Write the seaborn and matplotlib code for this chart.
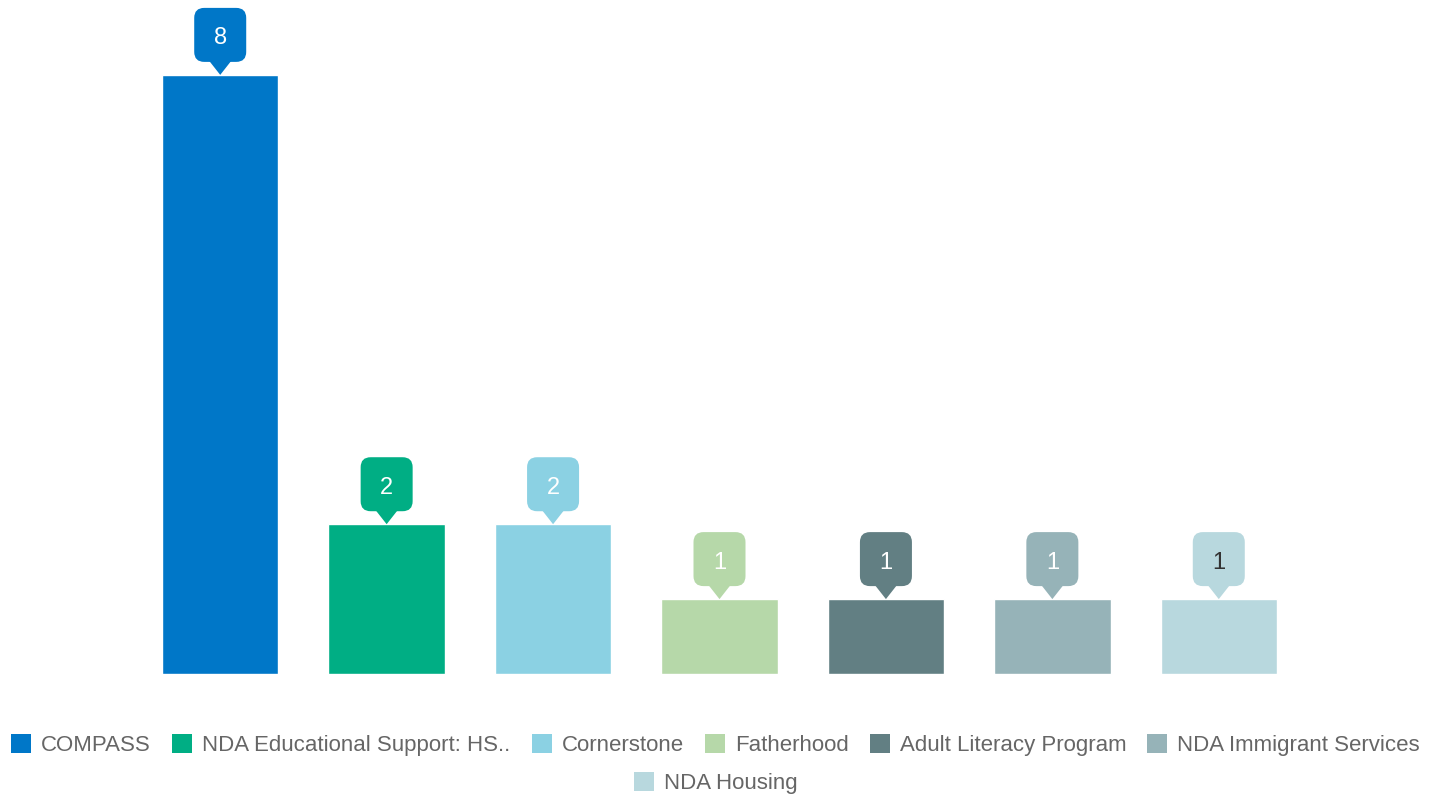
import matplotlib
matplotlib.use("Agg")
import matplotlib.pyplot as plt
import matplotlib.transforms as mtransforms
from matplotlib.patches import FancyBboxPatch, Polygon, Patch
import seaborn as sns

categories = ["COMPASS", "NDA Educational Support: HS..", "Cornerstone", "Fatherhood",
              "Adult Literacy Program", "NDA Immigrant Services", "NDA Housing"]
values = [8, 2, 2, 1, 1, 1, 1]
colors = ["#0077C8", "#00AE84", "#8BD1E3", "#B6D8A9", "#627F83", "#96B3B8", "#B8D8DE"]
label_colors = ["white", "white", "white", "white", "white", "white", "#333333"]

sns.set_theme(style="white")
plt.rcParams['font.family'] = ['Liberation Sans', 'DejaVu Sans']

fig = plt.figure(figsize=(14.4, 7.96), dpi=100)
ax = fig.add_axes([137/1440, 122/796, 1165/1440, 674/796])

sns.barplot(x=categories, y=values, hue=categories, palette=colors, width=0.7,
            saturation=1, legend=False, ax=ax)
ax.set_xlim(-0.5, 6.5)
ax.set_ylim(0, 9.0)
ax.set_axis_off()

for i, (v, c, tc) in enumerate(zip(values, colors, label_colors)):
    tr = fig.dpi_scale_trans + mtransforms.ScaledTranslation(i, v, ax.transData)
    box = FancyBboxPatch((-0.26, 0.13), 0.52, 0.54,
                         boxstyle="round,pad=0,rounding_size=0.1",
                         fc=c, ec="none", transform=tr, clip_on=False)
    ax.add_patch(box)
    tri = Polygon([(-0.11, 0.14), (0.11, 0.14), (0, 0.0)], closed=True,
                  fc=c, ec="none", transform=tr, clip_on=False)
    ax.add_patch(tri)
    ax.text(0, 0.39, str(v), transform=tr, ha="center", va="center_baseline",
            fontsize=17, color=tc)

handles = [Patch(facecolor=c, edgecolor="none") for c in colors]
leg_kw = dict(frameon=False, fontsize=16, labelcolor="#666666", handlelength=0.9,
              handleheight=0.9, handletextpad=0.45, columnspacing=0.95, borderpad=0,
              borderaxespad=0)
fig.legend(handles[:6], categories[:6], ncol=6, loc="center",
           bbox_to_anchor=(0.497, 0.064), **leg_kw)
fig.legend(handles[6:], categories[6:], ncol=1, loc="center",
           bbox_to_anchor=(0.497, 0.0163), **leg_kw)

fig.savefig("out.png", dpi=100, facecolor="white")
